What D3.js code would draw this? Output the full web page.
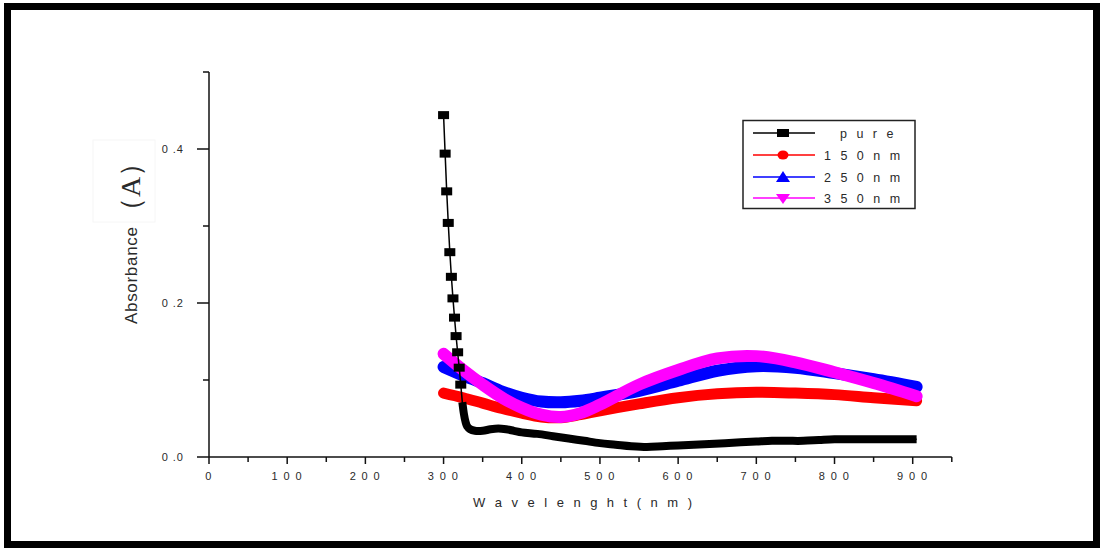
<!DOCTYPE html>
<html>
<head>
<meta charset="utf-8">
<script src="https://cdn.jsdelivr.net/npm/d3@7"></script>
<style>
  body { margin: 0; background: #fff; }
  svg text { font-family: "Liberation Sans", Arial, sans-serif; fill: #2a2a2a; }
</style>
</head>
<body>
<svg id="chart" width="1102" height="549"></svg>
<script>
// tick labels (digits are spaced out like the original)
var xTicks = [0, 100, 200, 300, 400, 500, 600, 700, 800, 900];
var xTickLabels = ["0", "1 0 0", "2 0 0", "3 0 0", "4 0 0", "5 0 0", "6 0 0", "7 0 0", "8 0 0", "9 0 0"];
var yTicks = [0, 0.2, 0.4];
var yTickLabels = ["0 .0", "0 .2", "0 .4"];

var seriesNames = ["p u r e", "1 5 0 n m", "2 5 0 n m", "3 5 0 n m"];

// pure: sharp absorption edge, then flat
var pureWave = [300, 302, 304, 306, 308, 310, 312, 314, 316, 318, 320, 322, 324,
  326, 328, 330, 334, 340, 350, 360, 370, 380, 390, 400, 420, 440, 460, 480, 500,
  520, 540, 560, 580, 600, 620, 640, 660, 680, 700, 720, 740, 760, 780, 800, 850, 905];
var pureAbs = [0.444, 0.394, 0.345, 0.304, 0.266, 0.234, 0.206, 0.181, 0.157, 0.136, 0.116, 0.094, 0.071,
  0.056, 0.046, 0.040, 0.036, 0.034, 0.034, 0.036, 0.037, 0.036, 0.034, 0.032, 0.030, 0.027, 0.024, 0.021, 0.018,
  0.016, 0.014, 0.013, 0.014, 0.015, 0.016, 0.017, 0.018, 0.019, 0.020, 0.021, 0.021, 0.021, 0.022, 0.023, 0.023, 0.023];

// doped samples
var dopWave = [300, 325, 350, 375, 400, 425, 450, 475, 500, 550, 600, 650, 700, 750, 800, 850, 905];
var abs150 = [0.083, 0.077, 0.070, 0.063, 0.057, 0.052, 0.051, 0.055, 0.060, 0.069, 0.077, 0.082, 0.084, 0.083, 0.081, 0.077, 0.073];
var abs250 = [0.117, 0.106, 0.096, 0.085, 0.077, 0.072, 0.071, 0.073, 0.077, 0.086, 0.099, 0.112, 0.118, 0.116, 0.109, 0.101, 0.091];
var abs350 = [0.134, 0.113, 0.094, 0.077, 0.064, 0.055, 0.052, 0.057, 0.068, 0.094, 0.113, 0.128, 0.131, 0.123, 0.110, 0.096, 0.079];

var colors = ["#000000", "#ff0000", "#0000ff", "#ff00ff"];

var svg = d3.select("#chart");

// outer frame
svg.append("rect")
  .attr("x", 7.5).attr("y", 6.5)
  .attr("width", 1089).attr("height", 538)
  .attr("fill", "none").attr("stroke", "#000").attr("stroke-width", 7);

var x = d3.scaleLinear().domain([0, 950]).range([209, 951.8]);
var y = d3.scaleLinear().domain([0, 0.5]).range([457, 72]);

// axes
var xAxis = svg.append("g").attr("transform", "translate(0,457)");
xAxis.append("line").attr("x1", x(0)).attr("x2", x(950))
  .attr("stroke", "#111").attr("stroke-width", 1.5);
xAxis.selectAll(".minor").data(d3.range(0, 951, 50)).enter().append("line")
  .attr("x1", function(d) { return x(d); }).attr("x2", function(d) { return x(d); })
  .attr("y1", 0).attr("y2", function(d) { return d % 100 === 0 ? 7 : 5; })
  .attr("stroke", "#111").attr("stroke-width", 1.5);
xAxis.selectAll(".lab").data(xTicks).enter().append("text")
  .attr("x", function(d) { return x(d); })
  .attr("y", 23)
  .attr("text-anchor", "middle")
  .attr("font-size", 11)
  .attr("letter-spacing", 1.4)
  .text(function(d, i) { return xTickLabels[i]; });

var yAxis = svg.append("g");
yAxis.append("line").attr("x1", x(0)).attr("x2", x(0))
  .attr("y1", y(0)).attr("y2", y(0.5))
  .attr("stroke", "#111").attr("stroke-width", 1.5);
yAxis.selectAll(".tk").data([0, 0.1, 0.2, 0.3, 0.4, 0.5]).enter().append("line")
  .attr("x1", function(d) { return (Math.round(d * 10) % 2 === 0 && d < 0.5) ? x(0) - 12 : x(0) - 6; })
  .attr("x2", x(0))
  .attr("y1", function(d) { return y(d); }).attr("y2", function(d) { return y(d); })
  .attr("stroke", "#111").attr("stroke-width", 1.5);
yAxis.selectAll(".lab").data(yTicks).enter().append("text")
  .attr("x", 184)
  .attr("y", function(d) { return y(d) + 4; })
  .attr("text-anchor", "end")
  .attr("font-size", 11)
  .attr("letter-spacing", 1)
  .text(function(d, i) { return yTickLabels[i]; });

// axis titles
svg.append("text")
  .attr("x", 473).attr("y", 507)
  .attr("font-size", 13)
  .attr("textLength", 219).attr("lengthAdjust", "spacing")
  .text("W a v e  l e n g h t ( n m )");

svg.append("rect")
  .attr("x", 93).attr("y", 140).attr("width", 62).attr("height", 82)
  .attr("fill", "none").attr("stroke", "#f6f6f6");
svg.append("text")
  .attr("transform", "translate(140,187) rotate(-90)")
  .attr("text-anchor", "middle")
  .attr("font-size", 28)
  .style("font-family", "'Liberation Serif', serif")
  .text("（A）");
svg.append("text")
  .attr("transform", "translate(137,324) rotate(-90)")
  .attr("font-size", 17)
  .attr("textLength", 97).attr("lengthAdjust", "spacing")
  .text("Absorbance");

// curves
var line = d3.line()
  .x(function(d) { return x(d[0]); })
  .y(function(d) { return y(d[1]); })
  .curve(d3.curveCatmullRom.alpha(0.5));

var plot = svg.append("g");
[abs150, abs250, abs350].forEach(function(vals, k) {
  var pts = dopWave.map(function(w, i) { return [w, vals[i]]; });
  plot.append("path")
    .attr("d", line(pts))
    .attr("fill", "none")
    .attr("stroke", colors[k + 1])
    .attr("stroke-width", k === 0 ? 11 : 12)
    .attr("stroke-linecap", "round")
    .attr("stroke-linejoin", "round");
});

var purePts = pureWave.map(function(w, i) { return [w, pureAbs[i]]; });
var lineLin = d3.line()
  .x(function(d) { return x(d[0]); })
  .y(function(d) { return y(d[1]); });
plot.append("path")
  .attr("d", lineLin(purePts))
  .attr("fill", "none").attr("stroke", "#000").attr("stroke-width", 1.5);
// dense region: markers overlap into a band
plot.append("path")
  .attr("d", line(purePts.filter(function(d) { return d[0] >= 324; })))
  .attr("fill", "none").attr("stroke", "#000").attr("stroke-width", 8);
plot.selectAll(".sq").data(purePts.filter(function(d) { return d[0] < 324; })).enter().append("rect")
  .attr("x", function(d) { return x(d[0]) - 5.5; })
  .attr("y", function(d) { return y(d[1]) - 4; })
  .attr("width", 11).attr("height", 8)
  .attr("fill", "#000");

// legend
var lg = svg.append("g");
lg.append("rect").attr("x", 743).attr("y", 120.5).attr("width", 172).attr("height", 88)
  .attr("fill", "#fff").attr("stroke", "#222").attr("stroke-width", 1.5);
var rowY = [133, 155, 177, 198];
seriesNames.forEach(function(name, i) {
  var yy = rowY[i];
  lg.append("line").attr("x1", 753).attr("x2", 815).attr("y1", yy).attr("y2", yy)
    .attr("stroke", colors[i]).attr("stroke-width", 1.5);
  var cx = 783;
  if (i === 0) {
    lg.append("rect").attr("x", cx - 6).attr("y", yy - 4).attr("width", 12).attr("height", 8).attr("fill", colors[i]);
  } else if (i === 1) {
    lg.append("ellipse").attr("cx", cx).attr("cy", yy).attr("rx", 5.5).attr("ry", 4.5).attr("fill", colors[i]);
  } else if (i === 2) {
    lg.append("path").attr("d", "M" + (cx - 7) + "," + (yy + 5) + "L" + cx + "," + (yy - 6) + "L" + (cx + 7) + "," + (yy + 5) + "Z").attr("fill", colors[i]);
  } else {
    lg.append("path").attr("d", "M" + (cx - 7) + "," + (yy - 4) + "L" + cx + "," + (yy + 6) + "L" + (cx + 7) + "," + (yy - 4) + "Z").attr("fill", colors[i]);
  }
  lg.append("text")
    .attr("x", i === 0 ? 840 : 824)
    .attr("y", yy + 5)
    .attr("font-size", 12.5)
    .attr("letter-spacing", 3)
    .text(name);
});
</script>
</body>
</html>
